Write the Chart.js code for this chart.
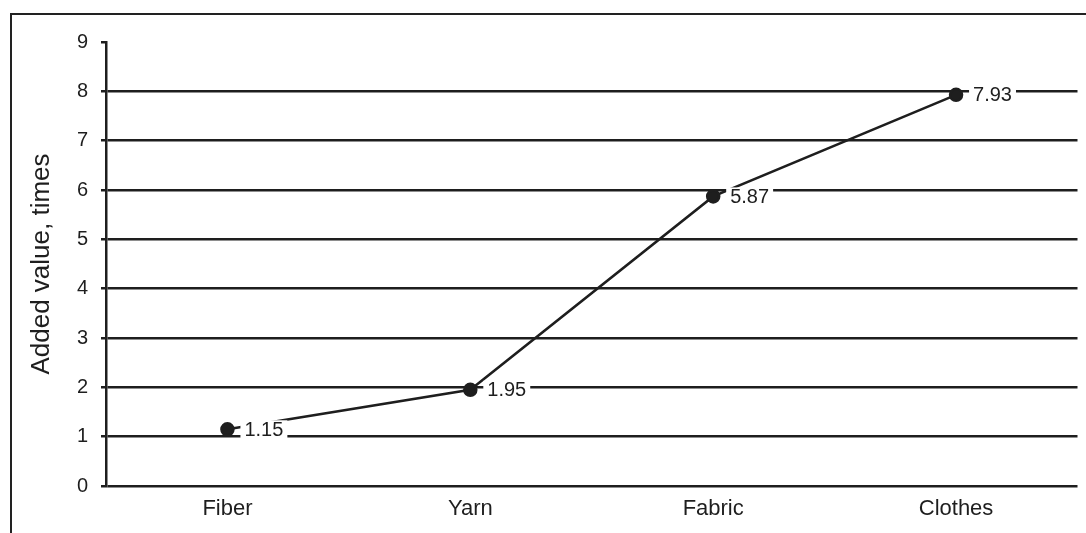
<!DOCTYPE html>
<html>
<head>
<meta charset="utf-8">
<script src="https://cdn.jsdelivr.net/npm/chart.js@4.4.1/dist/chart.umd.min.js"></script>
<style>
  html, body { margin: 0; padding: 0; background: #fff; }
  #wrap { position: relative; width: 1086px; height: 533px; overflow: hidden; }
  #frame { position: absolute; left: 10px; top: 13px; width: 1200px; height: 600px;
           border-left: 2px solid #222; border-top: 2px solid #222; }
  canvas { position: absolute; left: 0; top: 0; }
</style>
</head>
<body>
<div id="wrap">
  <div id="frame"></div>
  <canvas id="grafico" width="1086" height="533"></canvas>
</div>
<script>
// dados
const etapas = ['Fiber', 'Yarn', 'Fabric', 'Clothes'];
const valores = [1.15, 1.95, 5.87, 7.93];
const rotulos = ['1.15', '1.95', '5.87', '7.93'];

const tinta = '#1e1e1e';
const fonte = 'Liberation Sans, Arial, sans-serif';

// rótulos com fundo branco, à direita de cada ponto
const rotulosPlugin = {
    id: 'rotulos',
    afterDatasetsDraw(chart) {
        const ctx = chart.ctx;
        const meta = chart.getDatasetMeta(0);
        ctx.save();
        ctx.font = '20px ' + fonte;
        ctx.textBaseline = 'middle';
        meta.data.forEach((pt, i) => {
            const txt = rotulos[i];
            const w = ctx.measureText(txt).width;
            const x = pt.x + 17;
            const y = pt.y + 1;
            ctx.fillStyle = '#fff';
            ctx.fillRect(x - 4, y - 10, w + 8, 20);
            ctx.fillStyle = tinta;
            ctx.fillText(txt, x, y);
        });
        ctx.restore();
    }
};

const ctx = document.getElementById('grafico').getContext('2d');
new Chart(ctx, {
    type: 'line',
    data: {
        labels: etapas,
        datasets: [{
            data: valores,
            borderColor: tinta,
            backgroundColor: tinta,
            borderWidth: 2.5,
            pointRadius: 6,
            pointHoverRadius: 6,
            tension: 0
        }]
    },
    plugins: [rotulosPlugin],
    options: {
        responsive: false,
        animation: false,
        layout: { padding: { left: 26, top: 42, right: 8, bottom: 0 } },
        plugins: { legend: { display: false }, tooltip: { enabled: false } },
        scales: {
            x: {
                offset: true,
                grid: { display: false, drawTicks: false },
                border: { display: false },
                ticks: { color: tinta, font: { family: fonte, size: 22 }, padding: 10 },
                afterFit(s) { s.height = 47; }
            },
            y: {
                min: 0,
                max: 9,
                ticks: { stepSize: 1, color: tinta, font: { family: fonte, size: 20 }, padding: 13 },
                grid: {
                    color: c => c.tick && c.tick.value === 9 ? 'rgba(0,0,0,0)' : tinta,
                    lineWidth: 2.5,
                    tickColor: tinta,
                    tickLength: 5
                },
                border: { display: true, color: tinta, width: 2.5 },
                title: { display: true, text: 'Added value, times', color: tinta,
                         font: { family: fonte, size: 26 }, padding: { top: 0, bottom: 4 } },
                afterFit(s) { s.width = 80; }
            }
        }
    }
});
</script>
</body>
</html>
